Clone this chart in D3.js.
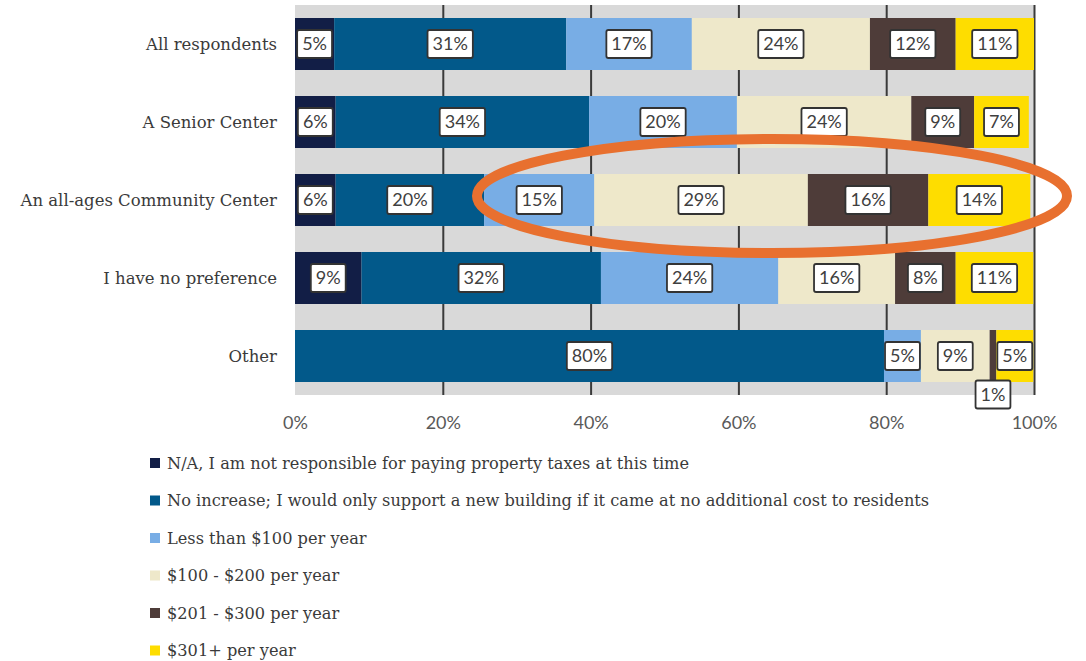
<!DOCTYPE html>
<html lang="en">
<head>
    <meta charset="UTF-8">
    <title>Property tax support by preferred building</title>
    <script src="https://d3js.org/d3.v7.min.js"></script>
    <style>
        body { margin: 0; background: #ffffff; }
        svg { display: block; }
        .cat-label { font-family: "DejaVu Serif", serif; font-size: 16.5px; fill: #3a3a3a; }
        .legend-label { font-family: "DejaVu Serif", serif; font-size: 16.2px; fill: #3a3a3a; }
        .tick text { font-family: Lato, sans-serif; font-size: 18px; fill: #595959; }
        .val-label { font-family: Lato, sans-serif; font-size: 18px; fill: #404040; }
    </style>
</head>
<body>
    <svg width="1086" height="661"></svg>

    <script>
        const width = 1086, height = 661;

        // categories (rows, top to bottom)
        const categories = ["All respondents", "A Senior Center", "An all-ages Community Center",
            "I have no preference", "Other"];

        // series (legend order) and colours
        const seriesNames = [
            "N/A, I am not responsible for paying property taxes at this time",
            "No increase; I would only support a new building if it came at no additional cost to residents",
            "Less than $100 per year",
            "$100 - $200 per year",
            "$201 - $300 per year",
            "$301+ per year"
        ];
        const seriesColors = ["#121e46", "#02598a", "#78ade5", "#eee8ca", "#4e3c39", "#fedd00"];

        // values in % per row
        const naValues      = [5.3, 5.5, 5.5, 9.0, 0];
        const noIncrease    = [31.4, 34.3, 20.1, 32.4, 79.7];
        const under100      = [17.0, 20.0, 14.9, 24.0, 5.0];
        const from100to200  = [24.1, 23.6, 28.9, 15.8, 9.3];
        const from201to300  = [11.6, 8.5, 16.3, 8.2, 0.9];
        const over301       = [10.6, 7.4, 13.8, 10.5, 5.0];

        const xTicks = [0, 20, 40, 60, 80, 100];

        const seriesValues = [naValues, noIncrease, under100, from100to200, from201to300, over301];
        const table = categories.map((c, i) => {
            const row = { category: c };
            seriesNames.forEach((s, j) => { row[s] = seriesValues[j][i]; });
            return row;
        });

        const svg = d3.select("svg");
        const plot = { left: 295, right: 1034, top: 5, bottom: 395 };

        const x = d3.scaleLinear().domain([0, 100]).range([plot.left, plot.right]);
        const y = d3.scaleBand().domain(categories)
            .range([plot.top, plot.bottom])
            .paddingInner(1 / 3).paddingOuter(1 / 6);

        // grey plot background
        svg.append("rect")
            .attr("x", plot.left).attr("y", plot.top)
            .attr("width", plot.right - plot.left)
            .attr("height", plot.bottom - plot.top)
            .attr("fill", "#d9d9d9");

        // gridlines
        const grid = svg.append("g")
            .attr("transform", `translate(0,${plot.bottom})`)
            .call(d3.axisBottom(x).tickValues(xTicks.filter(t => t > 0))
                .tickSize(-(plot.bottom - plot.top)).tickFormat(""));
        grid.select(".domain").remove();
        grid.selectAll(".tick line").attr("stroke", "#3a3a3a").attr("stroke-width", 2);

        // stacked bars
        const stacked = d3.stack().keys(seriesNames)(table);
        const layers = svg.append("g").selectAll("g")
            .data(stacked)
            .join("g")
            .attr("fill", (d, i) => seriesColors[i]);

        layers.selectAll("rect")
            .data(d => d)
            .join("rect")
            .attr("x", d => x(d[0]))
            .attr("y", d => y(d.data.category))
            .attr("width", d => x(d[1]) - x(d[0]))
            .attr("height", y.bandwidth());

        // value labels in white boxes
        const labelData = [];
        stacked.forEach(layer => {
            layer.forEach(d => {
                const v = d[1] - d[0];
                if (v > 0) labelData.push({ v: v, mid: (d[0] + d[1]) / 2, category: d.data.category });
            });
        });

        const labels = svg.append("g").selectAll("g")
            .data(labelData)
            .join("g")
            .attr("transform", d => {
                const cy = d.v < 2 ? y(d.category) + y.bandwidth() + 12.5 : y(d.category) + y.bandwidth() / 2;
                return `translate(${x(d.mid)},${cy})`;
            });

        labels.append("rect").attr("class", "box");
        labels.append("text")
            .attr("class", "val-label")
            .attr("text-anchor", "middle")
            .attr("dy", "0.36em")
            .text(d => Math.round(d.v) + "%");

        labels.each(function () {
            const g = d3.select(this);
            const w = g.select("text").node().getComputedTextLength() + 10;
            g.select("rect")
                .attr("x", -w / 2).attr("y", -14)
                .attr("width", w).attr("height", 28)
                .attr("rx", 2)
                .attr("fill", "#ffffff")
                .attr("stroke", "#333333")
                .attr("stroke-width", 1.8);
        });

        // category labels
        svg.append("g").selectAll("text")
            .data(categories)
            .join("text")
            .attr("class", "cat-label")
            .attr("x", 277)
            .attr("y", d => y(d) + y.bandwidth() / 2)
            .attr("dy", "0.35em")
            .attr("text-anchor", "end")
            .text(d => d);

        // x axis labels
        const xAxis = svg.append("g")
            .attr("transform", `translate(0,${plot.bottom + 18})`)
            .call(d3.axisBottom(x).tickValues(xTicks).tickSize(0).tickFormat(d => d + "%"));
        xAxis.select(".domain").remove();

        // legend
        const legend = svg.append("g").selectAll("g")
            .data(seriesNames)
            .join("g")
            .attr("transform", (d, i) => `translate(150,${463 + i * 37.5})`);

        legend.append("rect")
            .attr("x", 0).attr("y", -5)
            .attr("width", 10).attr("height", 10)
            .attr("fill", (d, i) => seriesColors[i]);

        legend.append("text")
            .attr("class", "legend-label")
            .attr("x", 17)
            .attr("dy", "0.35em")
            .text(d => d);

        // orange highlight around the community center row
        svg.append("ellipse")
            .attr("cx", 772).attr("cy", 196)
            .attr("rx", 295).attr("ry", 57)
            .attr("fill", "none")
            .attr("stroke", "#e8702f")
            .attr("stroke-width", 10);
    </script>
</body>
</html>
